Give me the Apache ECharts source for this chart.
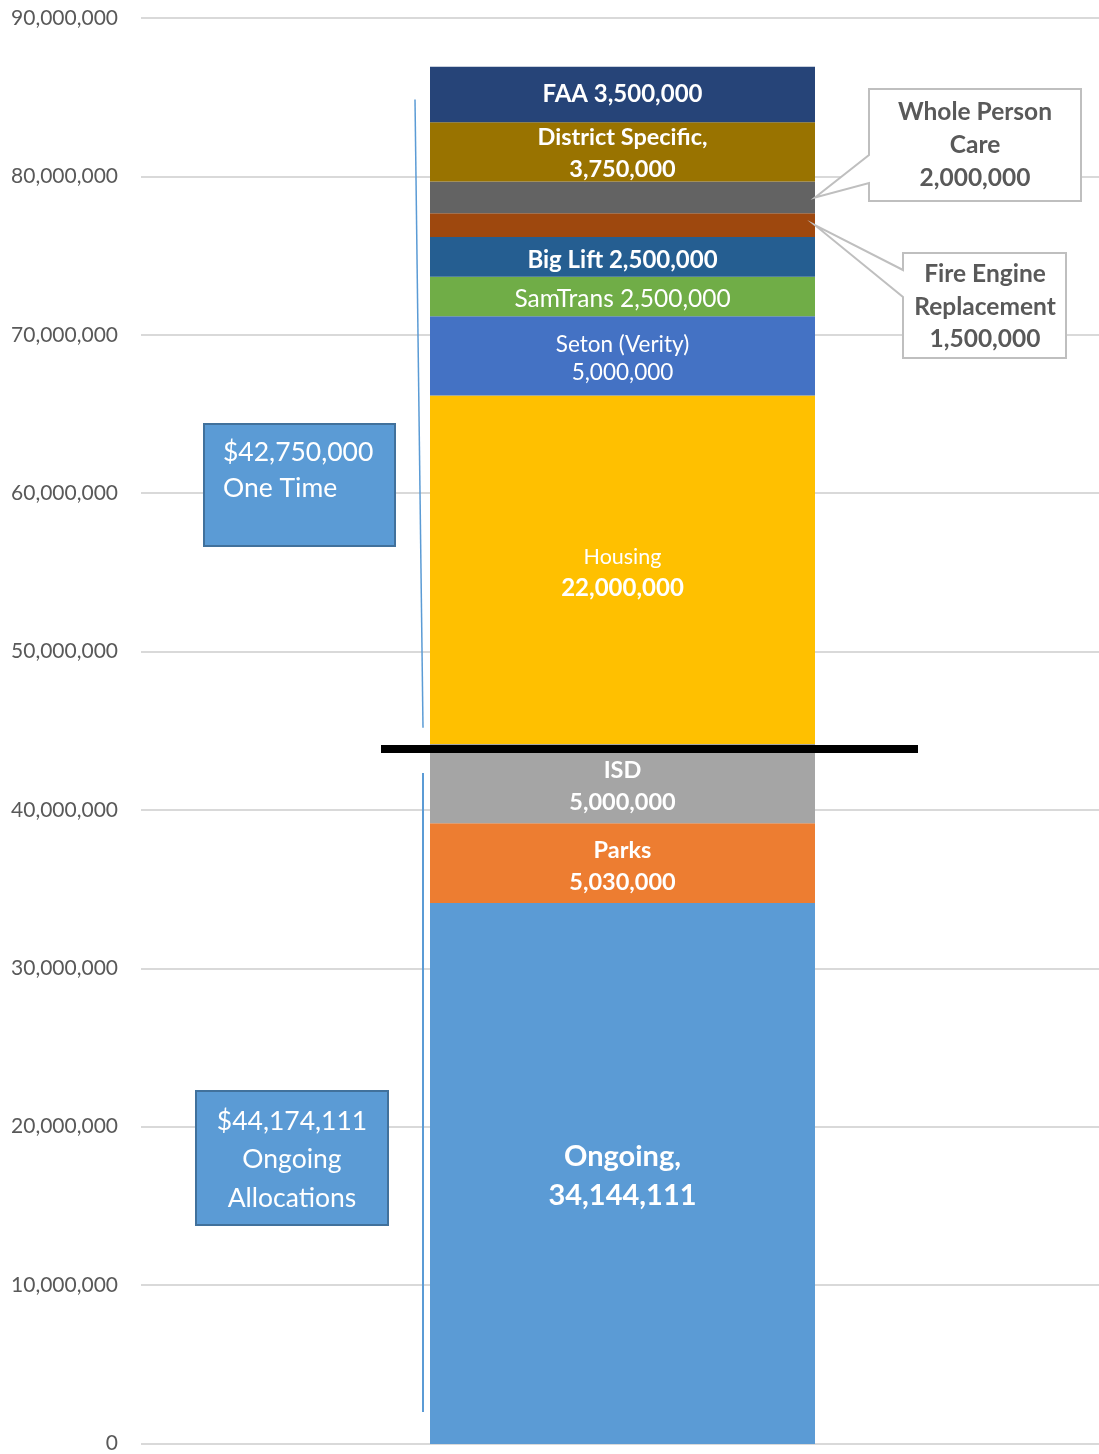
<!DOCTYPE html>
<html>
<head>
  <meta charset="utf-8">
  <title>Allocations stacked bar</title>
  <script src="https://cdn.jsdelivr.net/npm/echarts/dist/echarts.min.js"></script>
  <style>
    html, body { margin: 0; padding: 0; background: #fff; }
    #chart { width: 1099px; height: 1454px; }
  </style>
</head>
<body>
  <div id="chart"></div>
  <script>
    // data, bottom of the stack first
    const categories = ['Total'];
    const names = ['Ongoing', 'Parks', 'ISD', 'Housing', 'Seton (Verity)', 'SamTrans',
      'Big Lift', 'Fire Engine Replacement', 'Whole Person Care', 'District Specific', 'FAA'];
    const values = [34144111, 5030000, 5000000, 22000000, 5000000, 2500000,
      2500000, 1500000, 2000000, 3750000, 3500000];
    const colors = ['#5B9BD5', '#ED7D31', '#A5A5A5', '#FFC000', '#4472C4', '#70AD47',
      '#255E91', '#9E480E', '#636363', '#997300', '#264478'];
    const yTicks = [0, 10000000, 20000000, 30000000, 40000000, 50000000, 60000000, 70000000, 80000000, 90000000];
    const oneTimeTotal = '$42,750,000';
    const ongoingTotal = '$44,174,111';
    const splitValue = 44174111;

    const fmt = v => v.toLocaleString('en-US');
    const FONT = 'Lato';

    // label text per segment
    function labelFor(i) {
      const n = names[i], v = fmt(values[i]);
      switch (n) {
        case 'Ongoing': return { text: 'Ongoing,\n' + v, size: 29, weight: 'bold', lh: 39, dy: 3 };
        case 'Parks': return { text: 'Parks\n' + v, size: 23.5, weight: 'bold', lh: 32, dy: 3 };
        case 'ISD': return { text: 'ISD\n' + v, size: 23.5, weight: 'bold', lh: 32, dy: 3 };
        case 'Housing': return { text: '{a|Housing}\n{b|' + v + '}', size: 24, weight: 'bold', lh: 31, dy: 3 };
        case 'Seton (Verity)': return { text: n + '\n' + v, size: 22.5, weight: 'normal', lh: 28, dy: 3 };
        case 'SamTrans': return { text: n + ' ' + v, size: 24.5, weight: 'normal', lh: 28, dy: 3 };
        case 'Big Lift': return { text: n + ' ' + v, size: 24, weight: 'bold', lh: 28, dy: 3 };
        case 'District Specific': return { text: n + ',\n' + v, size: 23.5, weight: 'bold', lh: 32, dy: 2 };
        case 'FAA': return { text: n + ' ' + v, size: 24, weight: 'bold', lh: 28, dy: 0 };
        default: return null;
      }
    }

    const series = names.map((n, i) => {
      const l = labelFor(i);
      return {
        name: n,
        type: 'bar',
        stack: 'total',
        xAxisIndex: 1,
        yAxisIndex: 1,
        barWidth: 385,
        data: [values[i]],
        itemStyle: { color: colors[i] },
        label: l ? {
          show: true,
          position: 'inside',
          offset: [0, l.dy],
          formatter: l.text,
          color: '#fff',
          fontFamily: FONT,
          fontSize: l.size,
          fontWeight: l.weight,
          lineHeight: l.lh,
          rich: {
            a: { color: '#fff', fontFamily: FONT, fontSize: 21.5, fontWeight: 'normal', lineHeight: 31 },
            b: { color: '#fff', fontFamily: FONT, fontSize: 24, fontWeight: 'bold', lineHeight: 31 }
          }
        } : { show: false }
      };
    });

    const yMin = yTicks[0], yMax = yTicks[yTicks.length - 1], yStep = yTicks[1] - yTicks[0];

    const chart = echarts.init(document.getElementById('chart'));
    chart.setOption({
      animation: false,
      // grid 0 carries the axis labels and gridlines, grid 1 the bar
      grid: [
        { left: 141, right: 0, top: 18, bottom: 10, containLabel: false },
        { left: 146, right: 0, top: 18, bottom: 10, containLabel: false }
      ],
      xAxis: [
        { type: 'category', gridIndex: 0, data: categories, show: false },
        { type: 'category', gridIndex: 1, data: categories, show: false }
      ],
      yAxis: [
        {
          type: 'value', gridIndex: 0, min: yMin, max: yMax, interval: yStep,
          axisLine: { show: false },
          axisTick: { show: false },
          axisLabel: { formatter: fmt, color: '#595959', fontFamily: FONT, fontSize: 21, margin: 23 },
          splitLine: { lineStyle: { color: '#D9D9D9', width: 2 } }
        },
        {
          type: 'value', gridIndex: 1, min: yMin, max: yMax, interval: yStep,
          axisLine: { show: false }, axisTick: { show: false },
          axisLabel: { show: false }, splitLine: { show: false }
        }
      ],
      series: series
    });

    // annotations
    const py = v => chart.convertToPixel({ yAxisIndex: 1 }, v);
    const cum = [];
    values.reduce((s, v, i) => { cum[i] = s + v; return cum[i]; }, 0);
    const mid = i => py(cum[i] - values[i] / 2);
    const wpcY = mid(names.indexOf('Whole Person Care'));
    const fireY = mid(names.indexOf('Fire Engine Replacement'));
    const barRight = 815;
    const splitY = py(splitValue) + 5;

    const graphic = [
      // bracket lines
      { type: 'line', shape: { x1: 415, y1: py(84850000), x2: 423, y2: py(45200000) },
        style: { stroke: '#5B9BD5', lineWidth: 1.5 }, z: 10 },
      { type: 'line', shape: { x1: 423, y1: py(42350000), x2: 423, y2: py(2020000) },
        style: { stroke: '#5B9BD5', lineWidth: 2 }, z: 10 },
      // divider
      { type: 'line', shape: { x1: 381, y1: splitY, x2: 918, y2: splitY },
        style: { stroke: '#000', lineWidth: 8 }, z: 20 },
      // one time box
      { type: 'rect', shape: { x: 204, y: 424, width: 191, height: 122 },
        style: { fill: '#5B9BD5', stroke: '#41719C', lineWidth: 2 }, z: 10 },
      { type: 'text', x: 223, y: 434, z: 11,
        style: { text: oneTimeTotal + '\nOne Time', fill: '#fff', font: 'normal 26.5px ' + FONT,
          lineHeight: 36, align: 'left', verticalAlign: 'top' } },
      // ongoing box
      { type: 'rect', shape: { x: 196, y: 1091, width: 192, height: 134 },
        style: { fill: '#5B9BD5', stroke: '#41719C', lineWidth: 2 }, z: 10 },
      { type: 'text', x: 292, y: 1102, z: 11,
        style: { text: ongoingTotal + '\nOngoing\nAllocations', fill: '#fff', font: 'normal 26.5px ' + FONT,
          lineHeight: 38.5, align: 'center', verticalAlign: 'top' } },
      // whole person care callout
      { type: 'polygon', z: 10,
        shape: { points: [[869, 89], [1081, 89], [1081, 201], [869, 201], [869, 183], [barRight, wpcY], [869, 155]] },
        style: { fill: '#fff', stroke: '#BFBFBF', lineWidth: 2 } },
      { type: 'text', x: 975, y: 96, z: 11,
        style: { text: 'Whole Person\nCare\n2,000,000', fill: '#595959', font: 'bold 24.5px ' + FONT,
          lineHeight: 33, align: 'center', verticalAlign: 'top' } },
      // fire engine callout
      { type: 'polygon', z: 10,
        shape: { points: [[903, 253], [1066, 253], [1066, 358], [903, 358], [903, 297], [barRight, fireY], [903, 270]] },
        style: { fill: '#fff', stroke: '#BFBFBF', lineWidth: 2 } },
      { type: 'text', x: 985, y: 258, z: 11,
        style: { text: 'Fire Engine\nReplacement\n1,500,000', fill: '#595959', font: 'bold 24.5px ' + FONT,
          lineHeight: 32.5, align: 'center', verticalAlign: 'top' } }
    ];
    chart.setOption({ graphic: graphic });
  </script>
</body>
</html>
